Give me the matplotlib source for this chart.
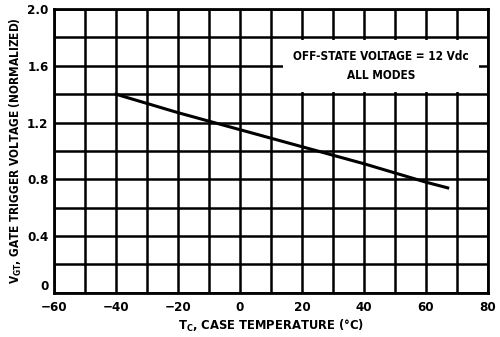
import numpy as np
import matplotlib.pyplot as plt

temp_c = [-40, -20, 0, 20, 40, 60, 67]
vgt_norm = [1.40, 1.27, 1.15, 1.03, 0.91, 0.78, 0.74]

x_ticks = [-60, -40, -20, 0, 20, 40, 60, 80]
y_ticks = [0, 0.4, 0.8, 1.2, 1.6, 2.0]
y_tick_labels = ['0', '0.4', '0.8', '1.2', '1.6', '2.0']

font = 'DejaVu Sans'
stretch = 'condensed'

fig = plt.figure(figsize=(5, 3.37), dpi=100)
ax = fig.add_axes([0.108, 0.131, 0.868, 0.842])

ax.plot(temp_c, vgt_norm, color='black', lw=2.2, zorder=3)

ax.set_xlim(-60, 80)
ax.set_ylim(0, 2.0)
ax.set_xticks(np.arange(-60, 81, 10), minor=True)
ax.set_yticks(np.arange(0, 2.01, 0.2), minor=True)
ax.set_xticks(x_ticks)
ax.set_yticks(y_ticks)
ax.set_yticklabels(y_tick_labels)
ax.grid(True, which='both', color='black', lw=1.8)
ax.tick_params(axis='x', which='both', length=0, pad=6)
ax.tick_params(axis='y', which='both', length=0, pad=4)
for lab in ax.get_xticklabels() + ax.get_yticklabels():
    lab.set_fontfamily(font)
    lab.set_fontstretch(stretch)
    lab.set_fontweight('bold')
    lab.set_fontsize(9.5)
ax.get_yticklabels()[0].set_va('bottom')
for s in ax.spines.values():
    s.set_linewidth(2)

ax.set_xlabel(r'T$_\mathregular{C}$, CASE TEMPERATURE (°C)', family=font, stretch=stretch,
              fontweight='bold', fontsize=9.3, labelpad=3)
ax.set_ylabel(r'V$_\mathregular{GT}$, GATE TRIGGER VOLTAGE (NORMALIZED)', family=font,
              stretch=stretch, fontweight='bold', fontsize=8.5, labelpad=2)

ax.text(45.5, 1.60, 'OFF-STATE VOLTAGE = 12 Vdc\nALL MODES', family=font, stretch=stretch,
        fontweight='bold', fontsize=8.5, ha='center', va='center',
        linespacing=1.6, zorder=4,
        bbox=dict(facecolor='white', edgecolor='none', pad=7))

fig.savefig('out.png', dpi=100)
